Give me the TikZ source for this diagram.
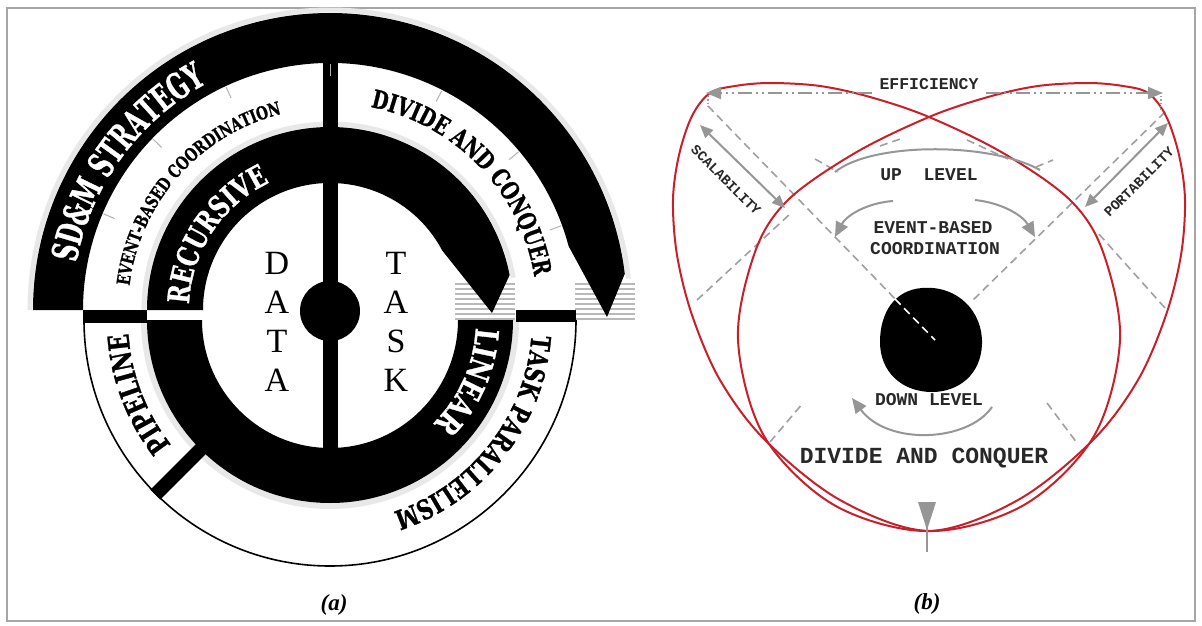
\documentclass[tikz,border=0pt]{standalone}
\usepackage{fontspec}
\usetikzlibrary{calc,decorations.text,arrows.meta}
\newfontfamily\heavy[FakeStretch=0.75,FakeBold=1]{DejaVu Serif}
\newfontfamily\heavyN[FakeStretch=0.63,FakeBold=1]{DejaVu Serif}
\newfontfamily\monob{Liberation Mono}
\newfontfamily\tnr{Liberation Serif}
\definecolor{redc}{RGB}{200,32,42}
\definecolor{gline}{RGB}{160,160,160}
\definecolor{garrow}{RGB}{150,150,150}
\definecolor{btxt}{RGB}{40,40,40}
\tikzset{
  band/.style={fill=black},
  hatchline/.style={draw=gray!55, line width=1.1pt},
  shade/.style={draw=gray!18},
  tick/.style={draw=gray!60, line width=1pt},
  bigletter/.style={font=\tnr\fontsize{34}{34}\selectfont, inner sep=0pt},
  sublabel/.style={font=\tnr\bfseries\itshape\fontsize{23}{23}\selectfont},
  redcurve/.style={draw=redc, line width=2pt},
  dashg/.style={draw=gline, line width=1.6pt, dash pattern=on 8pt off 5pt},
  garr/.style={draw=garrow, line width=2pt, -{Triangle[length=15pt,width=13pt]}},
  gdbl/.style={draw=garrow, line width=2pt, {Triangle[length=13pt,width=11pt]}-{Triangle[length=13pt,width=11pt]}},
  mtxt/.style={font=\monob\bfseries\fontsize{18}{18}\selectfont, text=btxt, inner sep=1pt},
}
\begin{document}
\begin{tikzpicture}[x=1pt,y=-1pt]
\useasboundingbox (0,0) rectangle (1202,626);
\fill[white] (0,0) rectangle (1202,626);
\draw[gray!70, line width=2pt] (7,8) rectangle (1195,621);

%================ (a) =================
\coordinate (U) at (330,310);
\coordinate (L) at (330,320);

% hatches
\foreach \yy in {284,289,...,320} {
  \draw[hatchline] (455,\yy) -- (515,\yy);
  \draw[hatchline] (575,\yy) -- (635,\yy);
}

% soft shadows
\draw[shade, line width=5pt] ($(U)+(-180:300)$) arc[start angle=-180,end angle=-6,radius=300];
\draw[shade, line width=5pt] ($(U)+(-180:186)$) arc[start angle=-180,end angle=-10,radius=186];
\draw[shade, line width=6pt] ($(L)+(180:186)$) arc[start angle=180,end angle=0,radius=186];

% upper outer band
\fill[band] ($(U)+(-180:297)$) arc[start angle=-180,end angle=-7,radius=297]
  -- (607,317) -- ($(U)+(-15:247)$) arc[start angle=-15,end angle=-180,radius=247] -- cycle;
% upper inner band
\fill[band] ($(U)+(-180:183)$) arc[start angle=-180,end angle=-11,radius=183]
  -- (492,313) -- ($(U)+(-28:127)$) arc[start angle=-28,end angle=-180,radius=127] -- cycle;
% lower band
\fill[band] ($(L)+(180:183)$) arc[start angle=180,end angle=0,radius=183]
  -- ($(L)+(0:128)$) arc[start angle=0,end angle=180,radius=128] -- cycle;
% lower ring
\draw[black, line width=1.6pt] ($(L)+(0:246)$) arc[start angle=0,end angle=180,radius=246];
% separators
\fill[band] (83,310) rectangle (147,323);
\fill[band] (516,310) rectangle (576,322);
\draw[black, line width=14pt] ($(L)+(135:182)$) -- ($(L)+(135:247)$);

% bar and hub
\draw[black, line width=15pt] (330.5,60) -- (330.5,450);
\fill[black] (330,311) circle[radius=30];
\draw[gray!60, line width=1.5pt] (330.5,64) -- (330.5,76);

% ticks
\foreach \a in {-20,-40,-63,-115,-136,-157} {
  \draw[tick] ($(U)+(\a:234)$) -- ($(U)+(\a:246)$);
}

% curved labels
\path[decorate, decoration={text along path, text align=center, text color=white,
  text={|\heavyN\bfseries\fontsize{36}{36}\selectfont|SD{\&}M STRATEGY}}]
  ($(U)+(-184:258)$) arc[start angle=-184,end angle=-104,radius=258];
\path[decorate, decoration={text along path, text align=center, text color=black,
  text={|\heavy\bfseries\fontsize{18}{18}\selectfont|EVENT-BASED COORDINATION}}]
  ($(U)+(-185:202)$) arc[start angle=-185,end angle=-92,radius=202];
\path[decorate, decoration={text along path, text align=center, text color=white,
  text={|\heavy\bfseries\fontsize{30}{30}\selectfont|RECURSIVE}}]
  ($(U)+(-185:141)$) arc[start angle=-185,end angle=-108,radius=141];
\path[decorate, decoration={text along path, text align=center, text color=black,
  text={|\heavy\bfseries\fontsize{25}{25}\selectfont|DIVIDE AND CONQUER}}]
  ($(U)+(-88:207)$) arc[start angle=-88,end angle=0,radius=207];
\path[decorate, decoration={text along path, text align=center, text color=black,
  text={|\heavy\bfseries\fontsize{29}{29}\selectfont|PIPELINE}}]
  ($(L)+(132:202)$) arc[start angle=132,end angle=186,radius=202];
\path[decorate, decoration={text along path, text align=center, text color=black,
  text={|\heavy\bfseries\fontsize{27}{27}\selectfont|TASK PARALLELISM}}]
  ($(L)+(-6:202)$) arc[start angle=-6,end angle=82,radius=202];
\path[decorate, decoration={text along path, text align=center, text color=white,
  text={|\heavy\bfseries\fontsize{32}{32}\selectfont|LINEAR}}]
  ($(L)+(-6:146)$) arc[start angle=-6,end angle=54,radius=146];

% DATA / TASK
\node[bigletter] (d1) at (277,263) {D};
\node[bigletter] (d2) at (277,302) {A};
\node[bigletter] (d3) at (277,341) {T};
\node[bigletter] (d4) at (277,380) {A};
\node[bigletter] (t1) at (396,263) {T};
\node[bigletter] (t2) at (396,302) {A};
\node[bigletter] (t3) at (396,341) {S};
\node[bigletter] (t4) at (396,380) {K};

\node[sublabel] (la) at (334,605) {(a)};

%================ (b) =================
% dashed guide lines
\draw[dashg] (708,106) -- (935,340);
\draw[dashg] (1165,112) -- (970,303);
\draw[dashg] (697,300) -- (790,214);
\draw[dashg] (1165,308) -- (1098,233);
\draw[dashg] (770,442) -- (803,403);
\draw[dashg] (1047,403) -- (1077,443);
\draw[dashg] (815,159) -- (838,172);
\draw[dashg] (880,146) -- (903,138);
\draw[dashg] (967,140) -- (1008,159);
\draw[dashg] (1036,167) -- (1053,160);

% blob (egg, narrow end up-left)
\fill[black] (922,288) .. controls (958,285) and (983,312) .. (982,344)
  .. controls (981,375) and (958,392) .. (932,392)
  .. controls (902,392) and (880,372) .. (880,342)
  .. controls (880,312) and (895,290) .. (922,288) -- cycle;
\draw[white, line width=1.6pt, dash pattern=on 8pt off 5pt] (895,299) -- (935,340);

% red curves
\draw[redcurve] plot[smooth cycle, tension=0.55] coordinates {
  (929,531) (1024,505) (1094,436) (1120,340) (1103,252) (1070,200) (1003,153) (929,117)
  (870,97) (820,86) (770,83) (735,86) (710,93) (692,116) (679,155) (673,200) (677,255)
  (692,315) (720,380) (765,440) (840,500)};
\draw[redcurve] plot[smooth cycle, tension=0.55] coordinates {
  (929,531) (834,505) (764,436) (738,340) (755,252) (788,200) (855,153) (929,117)
  (988,97) (1038,86) (1088,83) (1123,86) (1148,93) (1166,116) (1179,155) (1185,200) (1181,255)
  (1166,315) (1138,380) (1093,440) (1018,500)};

% efficiency
\node[font=\monob\bfseries\fontsize{16.5}{16.5}\selectfont, text=btxt, inner sep=1pt] (eff) at (929,84) {EFFICIENCY};
\coordinate (effL) at (706,93);
\coordinate (effR) at (1163,93);
\draw[draw=garrow, line width=1.8pt, dash pattern=on 14pt off 4pt on 2pt off 4pt on 2pt off 4pt, -{Triangle[length=15pt,width=12pt]}] (872,93) -- (effL);
\draw[draw=garrow, line width=1.8pt, dash pattern=on 14pt off 4pt on 2pt off 4pt on 2pt off 4pt, -{Triangle[length=15pt,width=12pt]}] (986,93) -- (effR);
\draw[gline, line width=1.2pt, dotted] (708,93) -- (708,108);
\draw[gline, line width=1.2pt, dotted] (1161,93) -- (1161,110);

% scalability / portability
\coordinate (sc1) at (700,125);
\coordinate (sc2) at (785,208);
\draw[gdbl] (sc1) -- (sc2);
\node[font=\monob\bfseries\fontsize{14}{14}\selectfont, text=btxt, rotate=-45] (scal) at (726,180) {SCALABILITY};
\coordinate (po1) at (1168,123);
\coordinate (po2) at (1085,207);
\draw[gdbl] (po1) -- (po2);
\node[font=\monob\bfseries\fontsize{14}{14}\selectfont, text=btxt, rotate=45] (port) at (1139,182) {PORTABILITY};

% up level
\coordinate (up1) at (835,172);
\coordinate (up2) at (1040,170);
\draw[draw=garrow, line width=2pt] (up1) .. controls (872,142) and (990,142) .. (up2);
\node[mtxt] (upl) at (929,175) {UP\ \ LEVEL};

% event-based
\node[mtxt] (ev1) at (933,228) {EVENT-BASED};
\node[mtxt] (ev2) at (935,249) {COORDINATION};
\coordinate (ea1) at (893,201);
\coordinate (ea2) at (835,237);
\draw[garr] (ea1) .. controls (866,203) and (846,216) .. (ea2);
\coordinate (eb1) at (975,200);
\coordinate (eb2) at (1035,237);
\draw[garr] (eb1) .. controls (1003,203) and (1023,216) .. (eb2);

% down level
\node[mtxt] (dwn) at (929,400) {DOWN LEVEL};
\coordinate (dl1) at (992,407);
\coordinate (dl2) at (852,398);
\draw[garr] (dl1) .. controls (968,442) and (888,446) .. (dl2);

% divide and conquer
\node[font=\monob\bfseries\fontsize{23}{23}\selectfont, text=btxt] (dac) at (924,458) {DIVIDE AND CONQUER};

% bottom marker
\coordinate (bm1) at (927,502);
\coordinate (bm2) at (927,552);
\draw[draw=garrow, line width=1.6pt] (bm1) -- (bm2);
\fill[garrow] (918,502) -- (936,502) -- (927,530) -- cycle;

\node[sublabel] (lb) at (927,604) {(b)};
\end{tikzpicture}
\end{document}
